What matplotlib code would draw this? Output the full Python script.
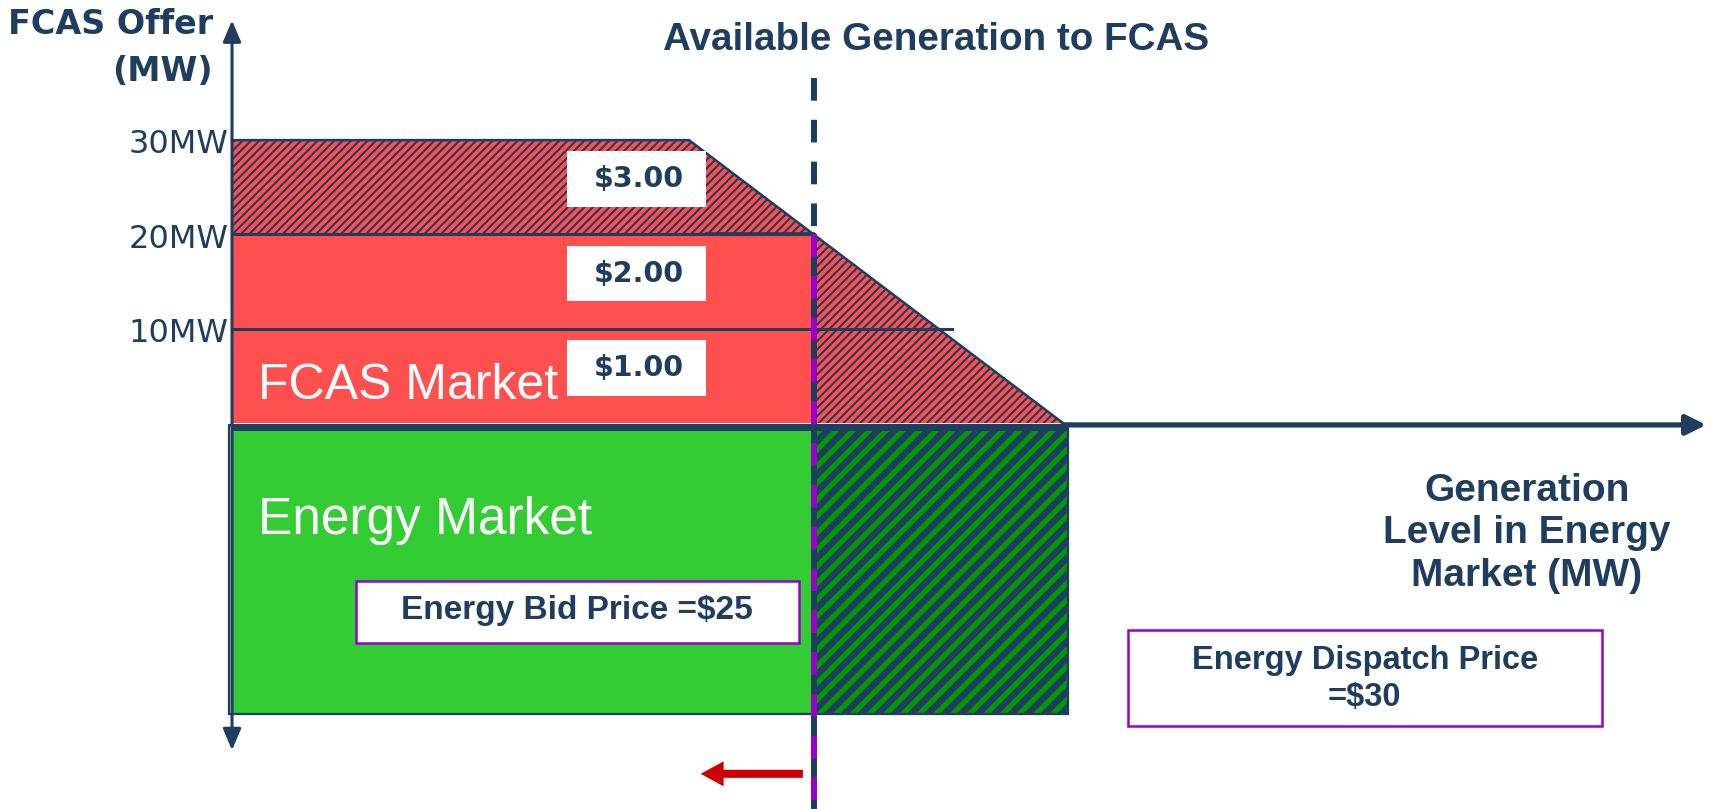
import numpy as np
import matplotlib
matplotlib.use("Agg")
import matplotlib.pyplot as plt
from matplotlib.patches import Rectangle, Polygon, FancyArrowPatch

# colours
navy = '#1F3D5F'
red = '#FF5050'
green = '#33CC33'
stripe_green = '#009A00'
purple = '#9900CC'

# data
fcas_levels = [10, 20, 30]
fcas_prices = ['$1.00', '$2.00', '$3.00']
tick_labels = ['10MW', '20MW', '30MW']
trap_x = [0, 55, 100]      # generation level (energy market)
trap_y = [30, 30, 0]       # FCAS offer MW
avail_gen = 70             # available generation to FCAS
energy_bid = 25
energy_dispatch = 30
energy_depth = -30.9       # depth of energy block below the axis

fcas_avail = np.interp(avail_gen, trap_x[1:], trap_y[1:])

fig = plt.figure(figsize=(17.09, 8.09), dpi=100)
ax = fig.add_axes([0, 0, 1, 1])
ax.set_xlim(-27.92, 177.74)
ax.set_ylim(-40.93, 44.86)
ax.axis('off')


def hatch_lw(p, lw):
    if hasattr(p, 'set_hatch_linewidth'):
        p.set_hatch_linewidth(lw)
    return p


# FCAS market - solid part up to available generation
ax.add_patch(Rectangle((0, 0), avail_gen, fcas_avail, facecolor=red,
                       edgecolor='none', zorder=1))

# FCAS unavailable part (hatched)
plt.rcParams['hatch.linewidth'] = 1.5
poly = [(0, fcas_avail), (0, trap_y[0]), (trap_x[1], trap_y[1]),
        (trap_x[2], trap_y[2]), (avail_gen, 0), (avail_gen, fcas_avail)]
p = Polygon(poly, closed=True, facecolor=red, edgecolor=navy, hatch='////',
            linewidth=0, zorder=1)
ax.add_patch(hatch_lw(p, 1.5))
ax.plot(trap_x, trap_y, color=navy, lw=1.8, zorder=2)
ax.plot([avail_gen - 13, avail_gen], [fcas_avail + 0.2, fcas_avail + 0.2],
        color=navy, lw=1.2, zorder=2)

# band lines
ax.plot([0, 86.6], [fcas_levels[0], fcas_levels[0]], color=navy, lw=2.2, zorder=2)
ax.plot([0, avail_gen], [fcas_levels[1], fcas_levels[1]], color=navy, lw=2.2, zorder=2)

# price boxes
for lvl, price in zip(fcas_levels, fcas_prices):
    yc = lvl - 5 + 0.85
    ax.add_patch(Rectangle((40.3, yc - 2.95), 16.7, 5.9, facecolor='white',
                           edgecolor='none', zorder=3))
    ax.text(48.9, yc, price, ha='center', va='center', fontsize=20.5,
            fontweight='bold', color=navy, family='DejaVu Sans', zorder=4)

# energy market
ax.add_patch(Rectangle((0, energy_depth), avail_gen, -0.2 - energy_depth,
                       facecolor=green, edgecolor='none', zorder=1))
plt.rcParams['hatch.linewidth'] = 3.8
g = Rectangle((avail_gen, energy_depth), trap_x[2] + 0.6 - avail_gen,
              -0.2 - energy_depth, facecolor=navy, edgecolor=stripe_green,
              hatch='//', linewidth=0, zorder=1)
ax.add_patch(hatch_lw(g, 3.8))
ax.add_patch(Rectangle((-0.36, energy_depth), trap_x[2] + 0.96, -0.2 - energy_depth,
                       facecolor='none', edgecolor=navy, lw=1.6, zorder=2))
ax.plot([0, trap_x[2] + 0.6], [-0.45, -0.45], color=navy, lw=5, zorder=2,
        solid_capstyle='butt')

# labels inside
ax.text(3.1, 3.9, 'FCAS Market', ha='left', va='center', fontsize=36,
        color='white', family='Liberation Sans', zorder=4)
ax.text(3.1, -10.3, 'Energy Market', ha='left', va='center', fontsize=37,
        color='white', family='Liberation Sans', zorder=4)

# energy bid box
ax.add_patch(Rectangle((14.9, -23.3), 53.3, 6.5, facecolor='white',
                       edgecolor=purple, lw=1.8, zorder=3))
ax.text(41.5, -19.9, 'Energy Bid Price =$%d' % energy_bid, ha='center',
        va='center', fontsize=24, fontweight='bold', color=navy,
        family='Liberation Sans', zorder=4)

# energy dispatch box
ax.add_patch(Rectangle((107.8, -32.1), 57.1, 10.1, facecolor='white',
                       edgecolor=purple, lw=1.8, zorder=3))
ax.text(136.3, -27.15, 'Energy Dispatch Price\n=$%d' % energy_dispatch,
        ha='center', va='center', fontsize=23.5, fontweight='bold',
        color=navy, family='Liberation Sans', linespacing=1.25, zorder=4)

# axes
ya = FancyArrowPatch((0, -34.7), (0, 42.7),
                     arrowstyle='<|-|>,head_length=13,head_width=5.5',
                     mutation_scale=1, lw=2.2, color=navy, zorder=5,
                     shrinkA=0, shrinkB=0)
ax.add_patch(ya)
xa = FancyArrowPatch((trap_x[2], -0.2), (177.4, -0.2),
                     arrowstyle='-|>,head_length=12,head_width=6',
                     mutation_scale=1, lw=3.8, color=navy, zorder=5,
                     shrinkA=0, shrinkB=0)
ax.add_patch(xa)

for lvl, lab in zip(fcas_levels, tick_labels):
    ax.text(-0.4, lvl - 0.5, lab, ha='right', va='center', fontsize=23,
            color=navy, family='DejaVu Sans', zorder=4)

ax.text(-2.3, 42.3, 'FCAS Offer', ha='right', va='center', fontsize=24,
        fontweight='bold', color=navy, family='DejaVu Sans')
ax.text(-2.3, 37.3, '(MW)', ha='right', va='center', fontsize=24,
        fontweight='bold', color=navy, family='DejaVu Sans')

ax.text(84.7, 40.6, 'Available Generation to FCAS', ha='center', va='center',
        fontsize=27.8, fontweight='bold', color=navy, family='Liberation Sans')
ax.text(155.8, -11.7, 'Generation\nLevel in Energy\nMarket (MW)', ha='center',
        va='center', fontsize=28, fontweight='bold', color=navy,
        family='Liberation Sans', linespacing=1.22)

# available generation line
ax.plot([avail_gen, avail_gen], [36.6, fcas_avail], color=navy, lw=4.3,
        dashes=(3.8, 3.2), dash_capstyle='butt', zorder=6)
ax.plot([avail_gen, avail_gen], [fcas_avail, -41], color=navy, lw=4.3,
        solid_capstyle='butt', zorder=6)
ax.plot([avail_gen, avail_gen], [fcas_avail, -41], color=purple, lw=4.3,
        dashes=(3.8, 3.2), dash_capstyle='butt', zorder=6)

# red arrow
ra = FancyArrowPatch((68.7, -37.2), (56.4, -37.2),
                     arrowstyle='simple,head_length=16.5,head_width=18,tail_width=5.8',
                     mutation_scale=1, lw=0, color='#CC0000', zorder=5,
                     shrinkA=0, shrinkB=0)
ax.add_patch(ra)

fig.savefig('out.png', dpi=100)
